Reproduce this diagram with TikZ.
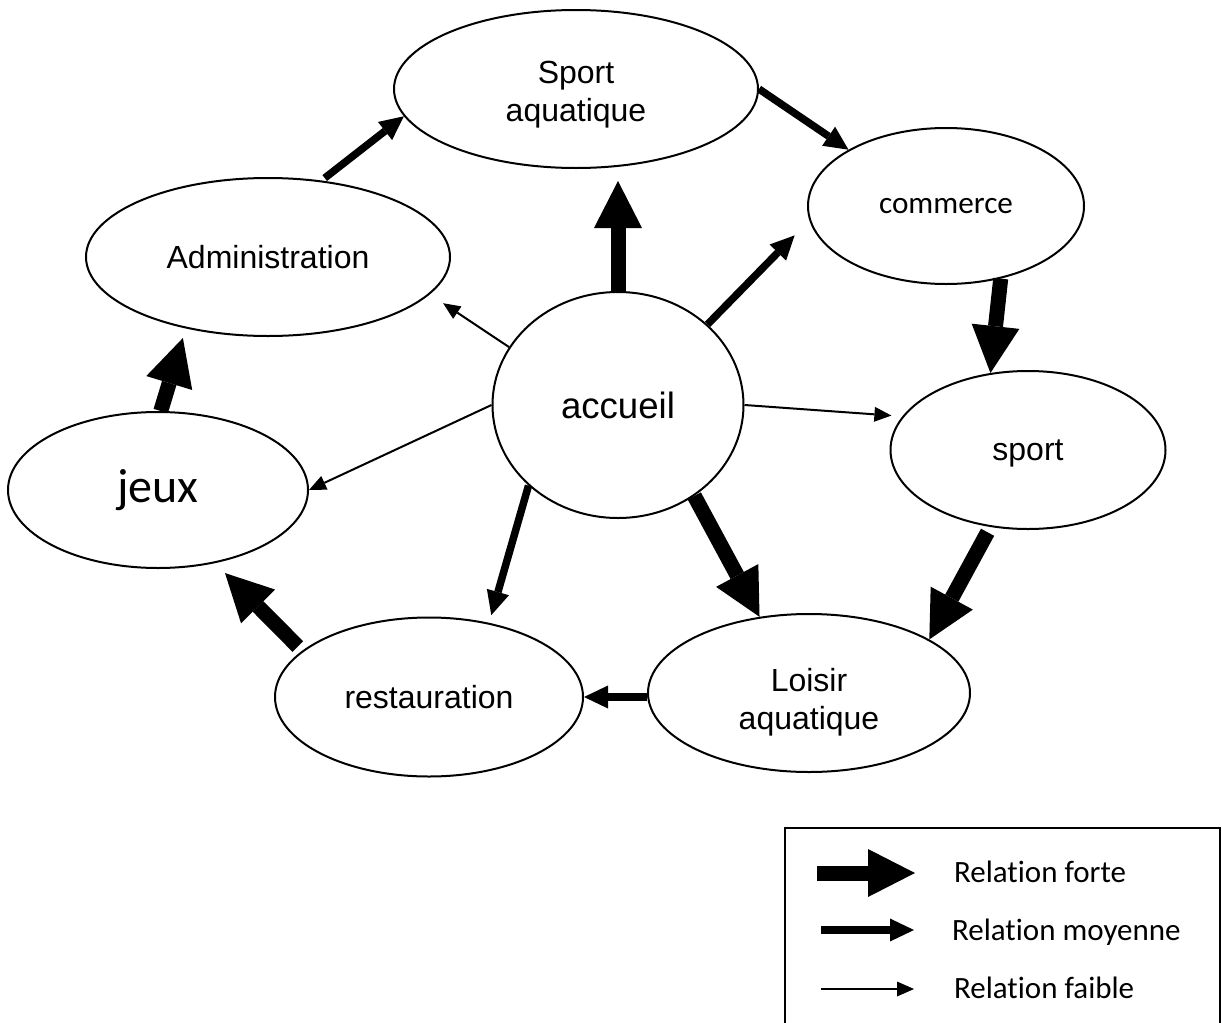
\documentclass[tikz,border=0pt]{standalone}
\usepackage{fontspec}
\setmainfont{Liberation Sans}
\newfontfamily\calibri[Ligatures=NoCommon]{Carlito}
\usepackage{tikz}
\usetikzlibrary{arrows.meta,shapes.geometric}
\tikzset{
  bulle/.style={
    draw, ellipse, line width=1pt, inner sep=0pt, align=center,
    font=\fontsize{16}{19}\selectfont,
  },
  forte/.style={line width=7.5pt, -{Triangle[length=23.5pt,width=24pt,line width=0pt]}},
  moyenne/.style={line width=3.75pt, -{Triangle[length=12pt,width=11.5pt,line width=0pt]}},
  faible/.style={line width=1pt, -{Triangle[length=8.5pt,width=7.5pt,line width=0pt]}},
  legende/.style={anchor=base west, font=\calibri\fontsize{15.5}{18}\selectfont},
}
\begin{document}
\begin{tikzpicture}[x=0.5pt,y=-0.5pt]
  \useasboundingbox (0,0) rectangle (1222,1023);

  % Zones
  \node[bulle, minimum width=182pt, minimum height=79pt] (sportaq) at (576,89) {\rule{0pt}{16.5pt}Sport\\aquatique};
  \node[bulle, minimum width=182pt, minimum height=79pt] (admin) at (268,257) {Administration};
  \node[bulle, minimum width=138pt, minimum height=78pt, font=\calibri\fontsize{15.6}{18}\selectfont] (commerce) at (946,206) {commerce};
  \node[bulle, minimum width=125.5pt, minimum height=113pt, font=\fontsize{18.3}{22}\selectfont] (accueil) at (618,405) {accueil};
  \node[bulle, minimum width=137.5pt, minimum height=79pt, text depth=0pt] (sport) at (1028,450) {sport};
  \node[bulle, minimum width=150pt, minimum height=78pt, font=\calibri\fontsize{24}{28}\selectfont] (jeux) at (158,490) {jeux};
  \node[bulle, minimum width=154pt, minimum height=79.5pt] (restau) at (429,697) {restauration};
  \node[bulle, minimum width=161pt, minimum height=79pt] (loisir) at (809,693) {\rule{0pt}{20.5pt}Loisir\\aquatique};

  % Relations fortes
  \draw[forte, shorten >=6pt] (accueil.north) -- (accueil.north |- sportaq.south);
  \draw[forte] (accueil.-50) -- (loisir.123);
  \draw[forte, shorten <=3pt] (sport.-116) -- (loisir.24);
  \draw[forte, shorten <=3pt, shorten >=7pt] (restau.160) -- (jeux.-52);
  \draw[forte] (commerce.-53) -- (sport.116);
  \draw[forte, shorten >=5pt] (jeux.88) -- (admin.-139);

  % Relations moyennes
  \draw[moyenne, shorten <=2pt] (admin.55) -- (sportaq.-171);
  \draw[moyenne] (sportaq.east) -- (commerce.150);
  \draw[moyenne, shorten >=10.5pt] (accueil.42) -- (commerce.-174);
  \draw[moyenne, shorten >=4pt] (accueil.-138) -- (restau.51);
  \draw[moyenne] (loisir.west |- restau.east) -- (restau.east);

  % Relations faibles
  \draw[faible, shorten >=8pt] (accueil.152) -- (admin.-13.5);
  \draw[faible] (accueil.west) -- (jeux.east);
  \draw[faible, shorten >=5.5pt] (accueil.east) -- (sport.165);

  % Legende
  \draw[line width=1pt] (785,1023) -- (785,828) -- (1220,828) -- (1220,1023);
  \coordinate (lf1) at (817,873);
  \coordinate (lf2) at (915,873);
  \coordinate (lm1) at (821,930);
  \coordinate (lm2) at (914,930);
  \coordinate (lw1) at (821,989);
  \coordinate (lw2) at (914,989);
  \draw[forte] (lf1) -- (lf2);
  \draw[moyenne] (lm1) -- (lm2);
  \draw[faible] (lw1) -- (lw2);
  \node[legende] (tforte) at (947,882) {Relation forte};
  \node[legende] (tmoyenne) at (945,940) {Relation moyenne};
  \node[legende] (tfaible) at (947,998) {Relation faible};
\end{tikzpicture}
\end{document}
